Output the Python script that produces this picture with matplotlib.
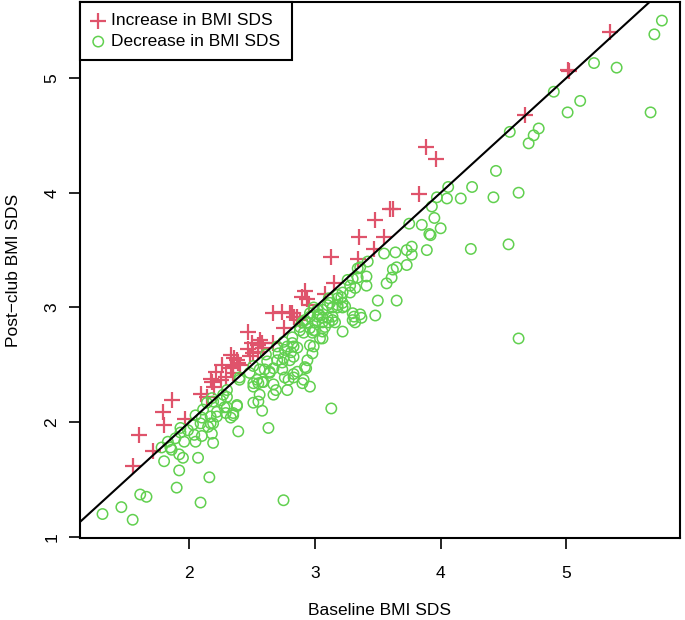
import matplotlib
matplotlib.use("Agg")
import matplotlib.pyplot as plt

plt.rcParams['font.family'] = ['Liberation Sans', 'DejaVu Sans']

RED = '#DF536B'
GREEN = '#61D04F'

# children whose BMI SDS went up after the club
inc_base = [1.55, 1.60, 1.71, 1.79, 1.80, 1.86, 1.97, 2.09, 2.14, 2.18, 2.20, 2.17,
            2.21, 2.25, 2.29, 2.26, 2.33, 2.35, 2.38, 2.40, 2.47, 2.48, 2.50, 2.55,
            2.58, 2.47, 2.56, 2.67, 2.67, 2.74, 2.75, 2.82, 2.86, 2.88, 2.92, 2.90,
            2.94, 2.95, 3.08, 3.15, 3.13, 3.34, 3.47, 3.35, 3.55, 3.48, 3.60, 3.62,
            3.83, 3.88, 3.96, 4.67, 5.01, 5.02, 5.35, 2.36, 2.39, 2.33, 2.35, 2.59,
            2.80, 2.83, 2.55, 2.51]
inc_post = [1.62, 1.89, 1.75, 2.09, 1.98, 2.19, 2.03, 2.25, 2.22, 2.35, 2.31, 2.38,
            2.44, 2.37, 2.39, 2.50, 2.59, 2.48, 2.54, 2.50, 2.64, 2.58, 2.69, 2.67,
            2.69, 2.79, 2.72, 2.69, 2.95, 2.96, 2.82, 2.95, 2.92, 2.89, 3.14, 3.09,
            3.07, 3.02, 3.12, 3.21, 3.44, 3.42, 3.51, 3.61, 3.61, 3.76, 3.86, 3.86,
            3.99, 4.40, 4.29, 4.68, 5.07, 5.06, 5.40, 2.56, 2.52, 2.47, 2.43, 2.65,
            2.95, 2.92, 2.61, 2.60]

# children whose BMI SDS went down
dec_base = [1.31, 1.46, 1.55, 1.61, 1.66, 1.90, 2.09, 2.16, 1.92, 1.80, 1.95, 1.92,
            1.86, 1.85, 1.78, 2.07, 1.96, 2.05, 2.19, 1.89, 1.83, 1.93, 1.99, 2.04,
            2.10, 2.18, 2.39, 2.63, 2.75, 2.03, 2.09, 2.17, 2.10, 2.17, 2.22, 2.29,
            2.35, 2.33, 2.22, 2.30, 2.38, 2.14, 2.19, 2.25, 2.30, 2.51, 2.55, 2.58,
            2.56, 2.67, 2.69, 2.51, 2.58, 2.40, 2.30, 2.27, 2.18, 1.93, 3.13, 2.38,
            2.15, 2.19, 2.05, 2.11, 2.28, 2.35, 2.78, 2.67, 2.64, 2.55, 2.48, 2.51,
            2.56, 2.40,
            2.79, 2.83, 2.83, 2.90, 2.96, 2.86, 2.93, 2.98, 2.99, 3.04, 3.06, 3.06,
            2.70, 2.75, 2.71, 2.78, 2.81, 2.83, 2.86, 2.82, 2.60, 2.64, 2.59, 2.54,
            2.51, 2.96, 3.02, 3.06, 3.00, 2.94, 2.91, 2.98, 3.08, 2.74, 2.80, 2.83,
            2.76, 2.70, 2.61, 2.62, 2.88, 2.82, 2.75, 2.67, 2.91, 2.94, 2.92, 2.76,
            2.74, 2.99, 2.96, 3.02, 3.06, 3.12, 3.18, 3.22, 3.30, 3.22,
            3.21, 3.18, 3.11, 3.22, 3.24, 3.18, 3.14, 3.10, 3.36, 3.31, 3.30, 3.32,
            3.37, 3.14, 3.11, 3.03, 2.96, 2.92, 2.90, 2.88, 3.28, 3.18, 3.22, 3.14,
            3.16, 3.48, 3.50, 3.65, 3.41, 3.28, 3.32, 3.26, 3.30, 3.34, 3.41, 3.61,
            3.57, 3.34, 3.73, 3.65, 3.42, 3.36, 3.64, 3.55, 3.92, 3.89, 3.77, 3.73,
            3.77, 3.75, 3.95, 3.85, 4.00, 3.91, 3.93, 3.97, 4.06, 4.05, 4.16, 4.25,
            4.42, 4.44, 4.62, 4.24, 4.54, 4.62, 3.62, 3.10, 3.04, 2.99, 3.06, 3.00,
            2.96,
            5.76, 5.70, 5.22, 5.40, 4.90, 5.11, 5.01, 5.67, 4.55, 4.78, 4.74, 4.70]
dec_post = [1.20, 1.26, 1.15, 1.37, 1.35, 1.43, 1.30, 1.52, 1.58, 1.66, 1.69, 1.72,
            1.76, 1.78, 1.78, 1.69, 1.83, 1.83, 1.82, 1.86, 1.83, 1.91, 1.93, 1.89,
            1.88, 1.90, 1.92, 1.95, 1.32, 1.98, 1.99, 1.99, 2.04, 2.05, 2.05, 2.08,
            2.08, 2.04, 2.09, 2.13, 2.15, 2.17, 2.18, 2.19, 2.22, 2.17, 2.18, 2.10,
            2.24, 2.33, 2.28, 2.34, 2.35, 2.37, 2.28, 2.24, 2.21, 1.95, 2.12, 2.14,
            1.96, 1.99, 2.06, 2.11, 2.13, 2.06, 2.28, 2.24, 2.43, 2.34, 2.43, 2.49,
            2.46, 2.39,
            2.37, 2.39, 2.42, 2.34, 2.31, 2.44, 2.47, 2.60, 2.66, 2.73, 2.73, 2.79,
            2.54, 2.56, 2.60, 2.66, 2.61, 2.57, 2.65, 2.69, 2.46, 2.44, 2.35, 2.37,
            2.31, 2.95, 2.98, 2.91, 2.87, 2.87, 2.78, 2.78, 2.83, 2.46, 2.54, 2.66,
            2.63, 2.66, 2.59, 2.53, 2.80, 2.74, 2.70, 2.47, 2.37, 2.54, 2.48, 2.39,
            2.52, 2.80, 2.67, 2.92, 2.98, 3.04, 3.08, 3.13, 2.95, 2.79,
            3.09, 3.11, 3.08, 3.04, 3.01, 3.00, 3.00, 3.02, 2.94, 2.92, 2.89, 2.87,
            2.91, 2.89, 2.87, 2.94, 2.92, 2.89, 2.87, 2.83, 3.13, 3.02, 3.00, 2.92,
            2.87, 2.93, 3.06, 3.06, 3.19, 3.19, 3.17, 3.24, 3.25, 3.26, 3.27, 3.26,
            3.21, 3.34, 3.37, 3.35, 3.40, 3.35, 3.48, 3.47, 3.63, 3.50, 3.53, 3.50,
            3.46, 3.73, 3.78, 3.72, 3.69, 3.64, 3.88, 3.96, 4.05, 3.95, 3.95, 4.05,
            3.96, 4.19, 4.00, 3.51, 3.55, 2.73, 3.33, 2.91, 2.93, 3.00, 2.87, 2.80,
            2.82,
            5.50, 5.38, 5.13, 5.09, 4.88, 4.80, 4.70, 4.70, 4.53, 4.56, 4.50, 4.43]

x_ticks = [2, 3, 4, 5]
y_ticks = [1, 2, 3, 4, 5]

fig = plt.figure(figsize=(6.85, 6.2), dpi=100)
ax = fig.add_axes([80 / 685, 1 - 538 / 620, 600 / 685, 536 / 620])

ax.scatter(inc_base, inc_post, marker='+', s=135, linewidths=1.6, color=RED,
           label='Increase in BMI SDS', zorder=3)
ax.scatter(dec_base, dec_post, marker='o', s=56, facecolors='none',
           edgecolors=GREEN, linewidths=1.1, label='Decrease in BMI SDS', zorder=3)
ax.axline((0, 0), slope=1, color='black', lw=1.5, zorder=4)

ax.set_xlim(1.131, 5.904)
ax.set_ylim(0.991, 5.662)
ax.set_xticks(x_ticks)
ax.set_yticks(y_ticks)
ax.tick_params(direction='out', length=8, width=1.2, labelsize=12.5)
ax.tick_params(axis='x', pad=12)
ax.tick_params(axis='y', pad=7)
for lab in ax.get_yticklabels():
    lab.set_rotation(90)
    lab.set_va('center')
for sp in ax.spines.values():
    sp.set_linewidth(1.5)

ax.set_xlabel('Baseline BMI SDS', fontsize=12.5, labelpad=16)
ax.set_ylabel('Post\u2212club BMI SDS', fontsize=12.5, labelpad=17)

leg = ax.legend(loc='upper left', borderaxespad=0, fancybox=False, framealpha=1,
                edgecolor='black', fontsize=12.5, handletextpad=0.35,
                borderpad=0.65, labelspacing=0.32, handlelength=0.8)
leg.get_frame().set_linewidth(1.5)

fig.savefig('out.png', dpi=100)
